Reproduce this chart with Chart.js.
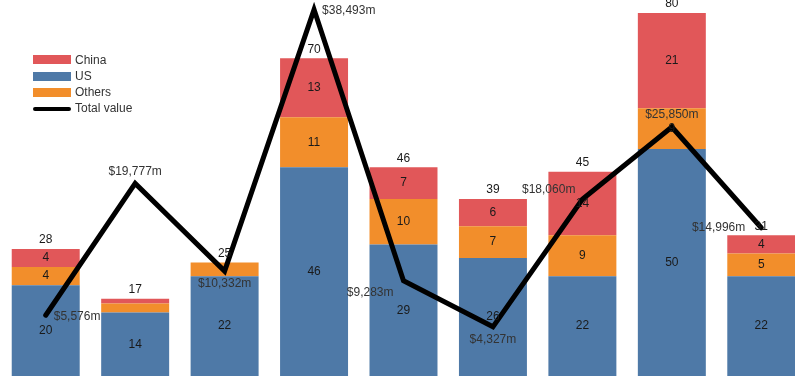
<!DOCTYPE html>
<html>
<head>
<meta charset="utf-8">
<script src="https://cdn.jsdelivr.net/npm/chart.js@4.4.1/dist/chart.umd.min.js"></script>
<style>
html,body{margin:0;padding:0;width:795px;height:376px;overflow:hidden;background:#fff;}
#wrap{position:absolute;left:1px;top:0;width:805px;height:376px;}
.sw{position:absolute;left:33px;width:38px;height:9px;}
.lt{position:absolute;left:75px;font:12px "Liberation Sans",Arial,sans-serif;color:#333;line-height:14px;white-space:nowrap;}
</style>
</head>
<body>
<div id="wrap"><canvas id="c" width="805" height="376"></canvas></div>
<div class="sw" style="top:55px;background:#E15759"></div><div class="lt" style="top:53px">China</div>
<div class="sw" style="top:72px;background:#4E79A7"></div><div class="lt" style="top:69px">US</div>
<div class="sw" style="top:88px;background:#F28E2B"></div><div class="lt" style="top:85px">Others</div>
<div class="sw" style="top:107px;height:4px;border-radius:2px;background:#000"></div><div class="lt" style="top:101px">Total value</div>
<script>
// ---- data ----
const categories = ['1','2','3','4','5','6','7','8','9'];
const usValues     = [20, 14, 22, 46, 29, 26, 22, 50, 22];
const othersValues = [ 4,  2,  3, 11, 10,  7,  9,  9,  5];
const chinaValues  = [ 4,  1,  0, 13,  7,  6, 14, 21,  4];
const totalValue   = [5576, 19777, 10332, 38493, 9283, 4327, 18060, 25850, 14996];

// label placement for the line values (style config)
const linePlacement = ['right','above','below','right','leftbelow','below','leftabove','above','left'];

const FONT = '"Liberation Sans", Arial, sans-serif';

const labelPlugin = {
  id: 'labels',
  afterDatasetsDraw(chart) {
    const ctx = chart.ctx;
    ctx.save();
    ctx.font = '12px ' + FONT;
    ctx.textAlign = 'center';
    ctx.textBaseline = 'middle';
    ctx.fillStyle = '#1a1a1a';
    // segment labels
    chart.data.datasets.forEach((ds, di) => {
      if (ds.type === 'line') return;
      const meta = chart.getDatasetMeta(di);
      meta.data.forEach((el, i) => {
        const v = ds.data[i];
        if (v >= 4) {
          ctx.fillText(String(v), el.x, (el.y + el.base) / 2);
        }
      });
    });
    // totals
    const ys = chart.scales.y;
    const barMeta = chart.getDatasetMeta(1);
    categories.forEach((c, i) => {
      const t = usValues[i] + othersValues[i] + chinaValues[i];
      const x = barMeta.data[i].x;
      ctx.fillText(String(t), x, ys.getPixelForValue(t) - 9);
    });
    // line labels
    ctx.fillStyle = '#333';
    const lm = chart.getDatasetMeta(0);
    lm.data.forEach((p, i) => {
      const txt = '$' + totalValue[i].toLocaleString('en-US') + 'm';
      const pl = linePlacement[i];
      let x = p.x, y = p.y;
      if (pl === 'right') { ctx.textAlign = 'left'; x += 8; y += 1; }
      else if (pl === 'above') { ctx.textAlign = 'center'; y -= 12; }
      else if (pl === 'below') { ctx.textAlign = 'center'; y += 13; }
      else if (pl === 'leftbelow') { ctx.textAlign = 'right'; x -= 10; y += 12; }
      else if (pl === 'leftabove') { ctx.textAlign = 'right'; x -= 7; y -= 10; }
      else if (pl === 'left') { ctx.textAlign = 'right'; x -= 16; y += 0; }
      ctx.fillText(txt, x, y);
    });
    ctx.restore();
  }
};

new Chart(document.getElementById('c'), {
  data: {
    labels: categories,
    datasets: [
      { type: 'line', label: 'Total value', data: totalValue, yAxisID: 'y2', order: 0,
        borderColor: '#000', borderWidth: 5, pointRadius: 0, tension: 0,
        borderJoinStyle: 'miter', borderCapStyle: 'round', fill: false },
      { type: 'bar', label: 'US', data: usValues, backgroundColor: '#4E79A7', stack: 's', order: 1,
        categoryPercentage: 1, barPercentage: 0.76 },
      { type: 'bar', label: 'Others', data: othersValues, backgroundColor: '#F28E2B', stack: 's', order: 1,
        categoryPercentage: 1, barPercentage: 0.76 },
      { type: 'bar', label: 'China', data: chinaValues, backgroundColor: '#E15759', stack: 's', order: 1,
        categoryPercentage: 1, barPercentage: 0.76 }
    ]
  },
  options: {
    responsive: false,
    animation: false,
    devicePixelRatio: 1,
    layout: { padding: 0 },
    plugins: { legend: { display: false }, tooltip: { enabled: false } },
    scales: {
      x: { display: false, stacked: true, offset: true },
      y: { display: false, stacked: true, min: 0, max: 82.86 },
      y2: { display: false, min: -969, max: 39526 }
    }
  },
  plugins: [labelPlugin]
});
</script>
</body>
</html>
